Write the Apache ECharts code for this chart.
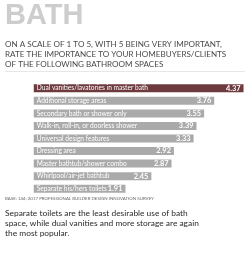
<!DOCTYPE html>
<html>
<head>
<meta charset="utf-8">
<script src="https://cdn.jsdelivr.net/npm/echarts@6/dist/echarts.min.js"></script>
<style>
  html, body { margin: 0; padding: 0; background: #fff; }
  #chart { width: 250px; height: 259px; }
</style>
</head>
<body>
<div id="chart"></div>
<script>
// data
const categories = [
  'Dual vanities/lavatories in master bath',
  'Additional storage areas',
  'Secondary bath or shower only',
  'Walk-in, roll-in, or doorless shower',
  'Universal design features',
  'Dressing area',
  'Master bathtub/shower combo',
  'Whirlpool/air-jet bathtub',
  'Separate his/hers toilets'
]
const scores = [4.37, 3.76, 3.55, 3.39, 3.33, 2.92, 2.87, 2.45, 1.91]
const subtitleLines = [
  'ON A SCALE OF 1 TO 5, WITH 5 BEING VERY IMPORTANT,',
  'RATE THE IMPORTANCE TO YOUR HOMEBUYERS/CLIENTS',
  'OF THE FOLLOWING BATHROOM SPACES'
]
const noteLines = [
  'Separate toilets are the least desirable use of bath',
  'space, while dual vanities and more storage are again',
  'the most popular.'
]

const chart = echarts.init(document.getElementById('chart'))

const barColor = function (params) {
  return params.dataIndex === 0 ? '#6d3a3e' : '#aaaaaa'
}

const option = {
  animation: false,
  grid: { left: 4, top: 82, width: 240, height: 113 },
  xAxis: {
    type: 'value',
    min: -0.62,
    max: 4.38,
    show: false
  },
  yAxis: {
    type: 'category',
    data: categories,
    inverse: true,
    show: false
  },
  graphic: [
    {
      type: 'text', left: 5, top: 1,
      style: { text: 'BATH', font: 'bold 29px "Liberation Sans"', fill: '#cdcdcd' }
    },
    {
      type: 'text', left: 5, top: 39,
      style: {
        text: subtitleLines.join('\n'),
        font: '8.1px "Lato"', lineHeight: 10, fill: '#4a4a4a'
      }
    },
    {
      type: 'rect', shape: { x: 5, y: 71, width: 240, height: 0.6 },
      style: { fill: '#d0d0d0' }
    },
    {
      type: 'text', left: 5, top: 197,
      style: {
        text: 'BASE: 144; 2017 PROFESSIONAL BUILDER DESIGN INNOVATION SURVEY',
        font: '4.4px "Lato"', fill: '#666'
      }
    },
    {
      type: 'text', left: 5, top: 208,
      style: {
        text: noteLines.join('\n'),
        font: '8.4px "Lato"', lineHeight: 10, fill: '#2a2a2a'
      }
    }
  ],
  series: [
    {
      type: 'bar',
      data: scores,
      barWidth: 8,
      itemStyle: { color: barColor },
      label: {
        show: true,
        position: 'insideRight',
        distance: 3,
        color: '#fff',
        fontWeight: 'bold',
        fontSize: 7.4,
        fontFamily: 'Lato',
        formatter: function (p) { return p.value.toFixed(2) }
      }
    },
    {
      // transparent overlay, only carries the category names inside the bars
      type: 'bar',
      data: scores,
      barWidth: 8,
      barGap: '-100%',
      itemStyle: { color: 'rgba(0,0,0,0)' },
      label: {
        show: true,
        position: 'insideLeft',
        distance: 3,
        color: '#fff',
        fontSize: 6.6,
        fontFamily: 'Lato',
        formatter: function (p) { return p.name }
      }
    }
  ]
}

chart.setOption(option)
</script>
</body>
</html>
